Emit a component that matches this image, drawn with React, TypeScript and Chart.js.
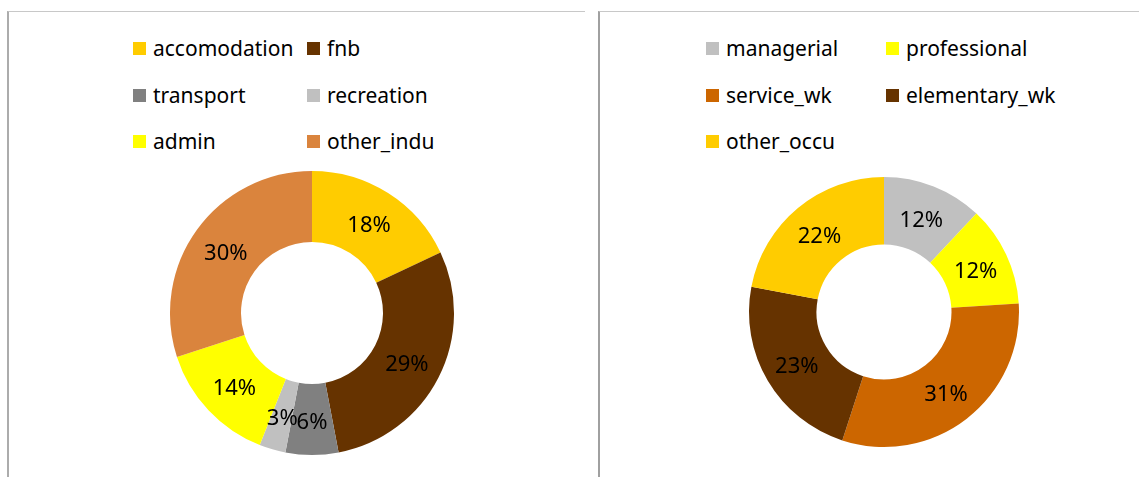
import React, { useEffect, useRef } from "react";
import { Chart, registerables } from "chart.js";

Chart.register(...registerables);

// ---- data ----
const industryLabels = ["accomodation", "fnb", "transport", "recreation", "admin", "other_indu"];
const industryValues = [18, 29, 6, 3, 14, 30];
const industryColors = ["#FFCC00", "#663300", "#808080", "#C0C0C0", "#FFFF00", "#DA843D"];

const occupationLabels = ["managerial", "professional", "service_wk", "elementary_wk", "other_occu"];
const occupationValues = [12, 12, 31, 23, 22];
const occupationColors = ["#C0C0C0", "#FFFF00", "#CC6600", "#663300", "#FFCC00"];

const FONT = '"Noto Sans", "Open Sans", sans-serif';

const pctLabelPlugin = {
  id: "pctLabels",
  afterDatasetsDraw(chart: any) {
    const ctx = chart.ctx;
    const meta = chart.getDatasetMeta(0);
    const data = chart.data.datasets[0].data as number[];
    const total = data.reduce((a, b) => a + b, 0);
    ctx.save();
    ctx.font = `22px ${FONT}`;
    ctx.fillStyle = "#000000";
    ctx.textAlign = "center";
    ctx.textBaseline = "middle";
    meta.data.forEach((arc: any, i: number) => {
      const p = arc.tooltipPosition();
      const pct = Math.round((data[i] / total) * 100);
      ctx.fillText(pct + "%", p.x, p.y + 3);
    });
    ctx.restore();
  },
};

type DonutProps = {
  labels: string[];
  values: number[];
  colors: string[];
  left: number;
  top: number;
  size: number;
};

function Donut({ labels, values, colors, left, top, size }: DonutProps) {
  const ref = useRef<HTMLCanvasElement | null>(null);
  useEffect(() => {
    if (!ref.current) return;
    const chart = new Chart(ref.current, {
      type: "doughnut",
      data: {
        labels,
        datasets: [
          {
            data: values,
            backgroundColor: colors,
            borderWidth: 0,
          },
        ],
      },
      options: {
        responsive: false,
        animation: false,
        cutout: "50%",
        layout: { padding: 10 },
        plugins: {
          legend: { display: false },
          tooltip: { enabled: false },
        },
      },
      plugins: [pctLabelPlugin],
    });
    return () => chart.destroy();
  }, []);
  return (
    <canvas
      ref={ref}
      width={size}
      height={size}
      style={{ position: "absolute", left, top, width: size, height: size }}
    />
  );
}

type LegendProps = {
  labels: string[];
  colors: string[];
  colX: number[];
  rowY: number[];
};

function Legend({ labels, colors, colX, rowY }: LegendProps) {
  return (
    <>
      {labels.map((l, i) => {
        const col = i % 2;
        const row = Math.floor(i / 2);
        return (
          <div
            key={l}
            style={{
              position: "absolute",
              left: colX[col],
              top: rowY[row] - 15,
              height: 30,
              display: "flex",
              alignItems: "center",
              whiteSpace: "nowrap",
              fontFamily: FONT,
              fontSize: 21,
              color: "#000",
            }}
          >
            <span
              style={{
                display: "inline-block",
                width: 13,
                height: 13,
                background: colors[i],
                marginRight: 7,
              }}
            />
            <span style={{ lineHeight: "30px", marginTop: -1 }}>{l}</span>
          </div>
        );
      })}
    </>
  );
}

export default function App() {
  return (
    <div
      style={{
        position: "fixed",
        left: 0,
        top: 0,
        width: 1139,
        height: 477,
        overflow: "hidden",
        background: "#ffffff",
      }}
    >
      {/* left panel frame */}
      <div
        style={{
          position: "absolute",
          left: 7,
          top: 11,
          width: 578,
          height: 500,
          borderTop: "1px solid #C8C8C8",
          borderLeft: "2px solid #ACACAC",
          boxSizing: "border-box",
        }}
      />
      {/* right panel frame */}
      <div
        style={{
          position: "absolute",
          left: 598,
          top: 11,
          width: 560,
          height: 500,
          borderTop: "1px solid #C8C8C8",
          borderLeft: "2px solid #A0A0A0",
          boxSizing: "border-box",
        }}
      />
      <Legend labels={industryLabels} colors={industryColors} colX={[133, 307]} rowY={[48, 95, 141]} />
      <Legend labels={occupationLabels} colors={occupationColors} colX={[706, 886]} rowY={[48, 95, 141]} />
      <Donut labels={industryLabels} values={industryValues} colors={industryColors} left={160} top={161} size={304} />
      <Donut labels={occupationLabels} values={occupationValues} colors={occupationColors} left={739} top={167} size={290} />
    </div>
  );
}
